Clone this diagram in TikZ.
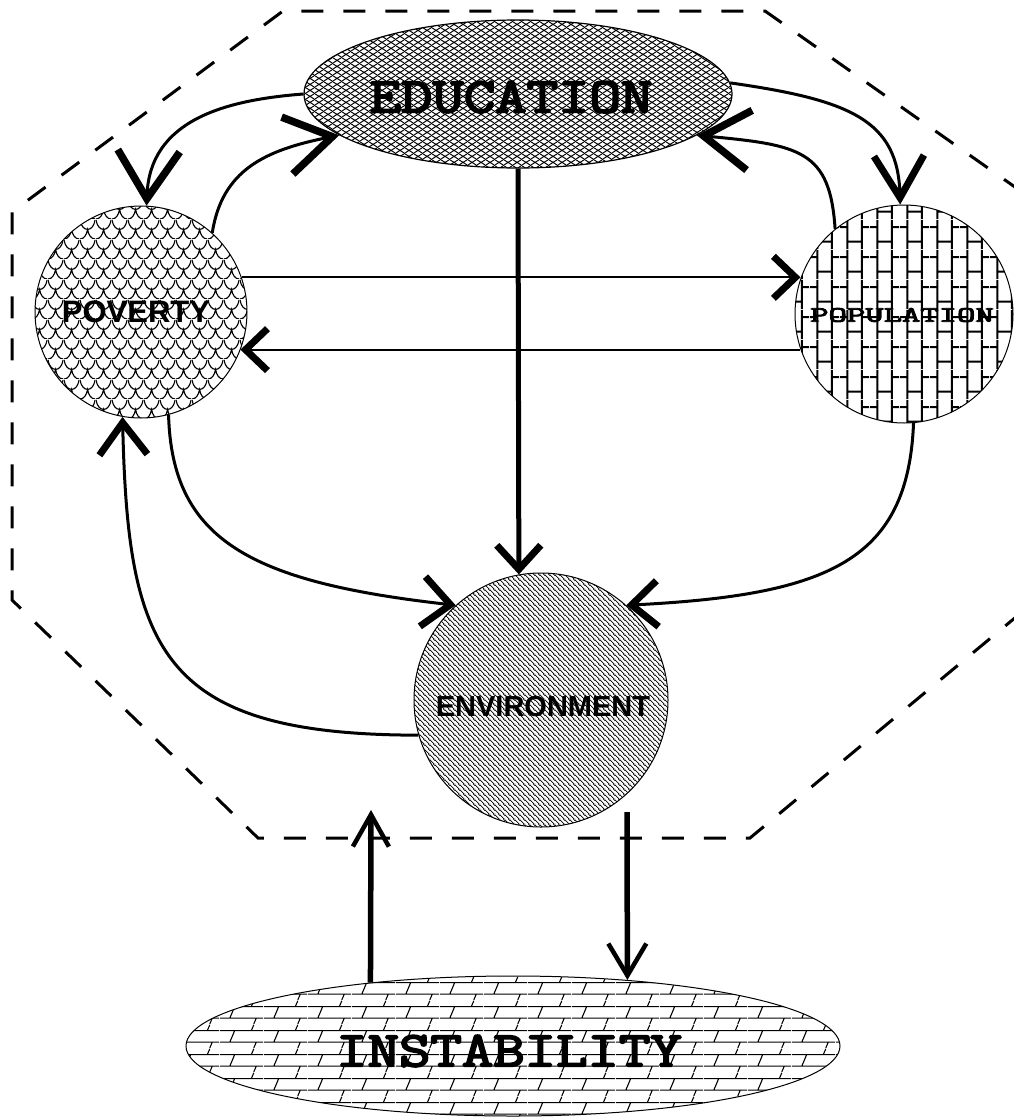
\documentclass[tikz,border=0pt]{standalone}
\usepackage{fontspec}
\usetikzlibrary{arrows.meta,patterns,shapes.geometric}
\newfontfamily\slabmono{Latin Modern Mono}[FakeBold=3.5]
\newfontfamily\labsans{Liberation Sans}

% fine diamond mesh
\pgfdeclarepatternformonly{eduMesh}{\pgfqpoint{0pt}{0pt}}{\pgfqpoint{9pt}{6pt}}{\pgfqpoint{9pt}{6pt}}{%
  \pgfsetlinewidth{1.1pt}%
  \pgfpathmoveto{\pgfqpoint{-0.9pt}{-0.6pt}}\pgfpathlineto{\pgfqpoint{9.9pt}{6.6pt}}%
  \pgfpathmoveto{\pgfqpoint{-0.9pt}{6.6pt}}\pgfpathlineto{\pgfqpoint{9.9pt}{-0.6pt}}%
  \pgfusepath{stroke}}

% fish scales
\pgfdeclarepatternformonly{povScales}{\pgfqpoint{0pt}{0pt}}{\pgfqpoint{16pt}{20pt}}{\pgfqpoint{16pt}{20pt}}{%
  \pgfsetlinewidth{1.2pt}%
  \pgfpathmoveto{\pgfqpoint{0pt}{20pt}}%
  \pgfpathcurveto{\pgfqpoint{1pt}{14pt}}{\pgfqpoint{4pt}{10pt}}{\pgfqpoint{8pt}{10pt}}%
  \pgfpathcurveto{\pgfqpoint{12pt}{10pt}}{\pgfqpoint{15pt}{14pt}}{\pgfqpoint{16pt}{20pt}}%
  \pgfpathmoveto{\pgfqpoint{0pt}{0pt}}%
  \pgfpathcurveto{\pgfqpoint{4pt}{0pt}}{\pgfqpoint{7pt}{4pt}}{\pgfqpoint{8pt}{10pt}}%
  \pgfpathcurveto{\pgfqpoint{9pt}{4pt}}{\pgfqpoint{12pt}{0pt}}{\pgfqpoint{16pt}{0pt}}%
  \pgfusepath{stroke}}

% upright bricks
\pgfdeclarepatternformonly{popBricks}{\pgfqpoint{0pt}{0pt}}{\pgfqpoint{30pt}{30pt}}{\pgfqpoint{30pt}{30pt}}{%
  \pgfsetlinewidth{2pt}%
  \pgfpathmoveto{\pgfqpoint{7.5pt}{0pt}}\pgfpathlineto{\pgfqpoint{7.5pt}{30pt}}%
  \pgfpathmoveto{\pgfqpoint{22.5pt}{0pt}}\pgfpathlineto{\pgfqpoint{22.5pt}{30pt}}%
  \pgfpathmoveto{\pgfqpoint{7.5pt}{7.5pt}}\pgfpathlineto{\pgfqpoint{22.5pt}{7.5pt}}%
  \pgfpathmoveto{\pgfqpoint{22.5pt}{22.5pt}}\pgfpathlineto{\pgfqpoint{30pt}{22.5pt}}%
  \pgfpathmoveto{\pgfqpoint{0pt}{22.5pt}}\pgfpathlineto{\pgfqpoint{7.5pt}{22.5pt}}%
  \pgfusepath{stroke}}

% back-slanted lines
\pgfdeclarepatternformonly{envLines}{\pgfqpoint{0pt}{0pt}}{\pgfqpoint{5pt}{5pt}}{\pgfqpoint{5pt}{5pt}}{%
  \pgfsetlinewidth{0.8pt}%
  \pgfpathmoveto{\pgfqpoint{-0.5pt}{5.5pt}}\pgfpathlineto{\pgfqpoint{5.5pt}{-0.5pt}}%
  \pgfpathmoveto{\pgfqpoint{-1pt}{1pt}}\pgfpathlineto{\pgfqpoint{1pt}{-1pt}}%
  \pgfpathmoveto{\pgfqpoint{4pt}{6pt}}\pgfpathlineto{\pgfqpoint{6pt}{4pt}}%
  \pgfusepath{stroke}}

% flat bricks with slanted joints
\pgfdeclarepatternformonly{instBricks}{\pgfqpoint{0pt}{0pt}}{\pgfqpoint{44pt}{24pt}}{\pgfqpoint{44pt}{24pt}}{%
  \pgfsetlinewidth{1.1pt}%
  \pgfpathmoveto{\pgfqpoint{0pt}{6pt}}\pgfpathlineto{\pgfqpoint{44pt}{6pt}}%
  \pgfpathmoveto{\pgfqpoint{0pt}{18pt}}\pgfpathlineto{\pgfqpoint{44pt}{18pt}}%
  \pgfpathmoveto{\pgfqpoint{10pt}{6pt}}\pgfpathlineto{\pgfqpoint{15pt}{18pt}}%
  \pgfpathmoveto{\pgfqpoint{32pt}{18pt}}\pgfpathlineto{\pgfqpoint{34.5pt}{24pt}}%
  \pgfpathmoveto{\pgfqpoint{34.5pt}{0pt}}\pgfpathlineto{\pgfqpoint{37pt}{6pt}}%
  \pgfusepath{stroke}}

\tikzset{
  shapebox/.style={draw, line width=1pt, inner sep=0pt},
  shaft/.style={line width=3pt},
  barb/.style n args={3}{-{Straight Barb[length=#1pt,width=#2pt,line width=#3pt,sharp]}},
  boundary/.style={line width=3pt, dash pattern=on 22pt off 20pt},
  monolabel/.style={font=\slabmono\fontsize{50pt}{50pt}\selectfont, inner sep=0pt},
  sanslabel/.style={font=\labsans\bfseries\fontsize{29pt}{29pt}\selectfont, inner sep=0pt},
}

\begin{document}
\begin{tikzpicture}[x=1pt, y=-1pt]
  \useasboundingbox (0,0) rectangle (1014,1119);
  \fill[white] (0,0) rectangle (1014,1119);

  % dashed system boundary
  \draw[boundary] (1022,192) -- (765,11) -- (283,11) -- (12,212) -- (12,600)
                  -- (258,838) -- (750,838) -- (1022,612);

  % the five factors
  \node[shapebox, ellipse, pattern=eduMesh, line width=1.2pt,
        minimum width=428pt, minimum height=148pt] (edu) at (518,94) {};
  \node[shapebox, circle, pattern=povScales, minimum size=212pt] (pov) at (141,312) {};
  \node[shapebox, circle, pattern=popBricks, minimum size=218pt] (pop) at (904,314) {};
  \node[shapebox, circle, pattern=envLines, minimum size=254pt] (env) at (541,700) {};
  \node[shapebox, ellipse, pattern=instBricks,
        minimum width=654pt, minimum height=140pt] (inst) at (513,1046) {};

  \node[monolabel] (eduText) at (511,97) {\scalebox{1.22}[1]{EDUCATION}};
  \node[sanslabel, font=\labsans\bfseries\fontsize{31pt}{31pt}\selectfont] (povText) at (136,312) {POVERTY};
  \node[monolabel, font=\slabmono\fontsize{22pt}{22pt}\selectfont] (popText) at (902,315)
       {\scalebox{1.62}[1]{POPULATION}};
  \node[sanslabel] (envText) at (543,707) {ENVIRONMENT};
  \node[monolabel] (instText) at (509,1051) {\scalebox{1.22}[1]{INSTABILITY}};

  % free ends of the links to instability
  \coordinate (riseTop) at (371,810);
  \coordinate (fallTop) at (627,812);

  % links
  \draw[shaft, barb={48}{62}{7.5}] (edu.180) .. controls (225,100) and (150,120) .. (pov.87);
  \draw[shaft, barb={46}{58}{7.5}] (pov.48) .. controls (222,170) and (265,150) .. (edu.193);
  \draw[shaft, barb={42}{50}{7}] (edu.3) .. controls (850,100) and (898,120) .. (pop.92);
  \draw[shaft, barb={46}{60}{7.5}] (pop.129) .. controls (830,150) and (800,145) .. (edu.-13);

  \draw[line width=2pt, barb={22}{42}{7}] (pov.19) -- (pop.161 |- pov.19);
  \draw[line width=2pt, barb={22}{42}{7}] (pop.199) -- (pov.-21 |- pop.199);

  \draw[line width=5pt, barb={24}{44}{7}] (edu.south) -- (env.100);

  \draw[shaft, barb={28}{50}{7}] (pov.-75) .. controls (172,540) and (250,582) .. (env.132);
  \draw[shaft, barb={26}{46}{7}] (pop.-85) .. controls (908,560) and (830,595) .. (env.48);
  \draw[shaft, barb={32}{48}{7}] (env.196) .. controls (160,735) and (128,650) .. (pov.260);

  \draw[line width=5.5pt, barb={32}{36}{4.5}] (inst.156) -- (riseTop);
  \draw[line width=5.5pt, barb={32}{38}{4.5}] (fallTop) -- (inst.30);
\end{tikzpicture}
\end{document}
